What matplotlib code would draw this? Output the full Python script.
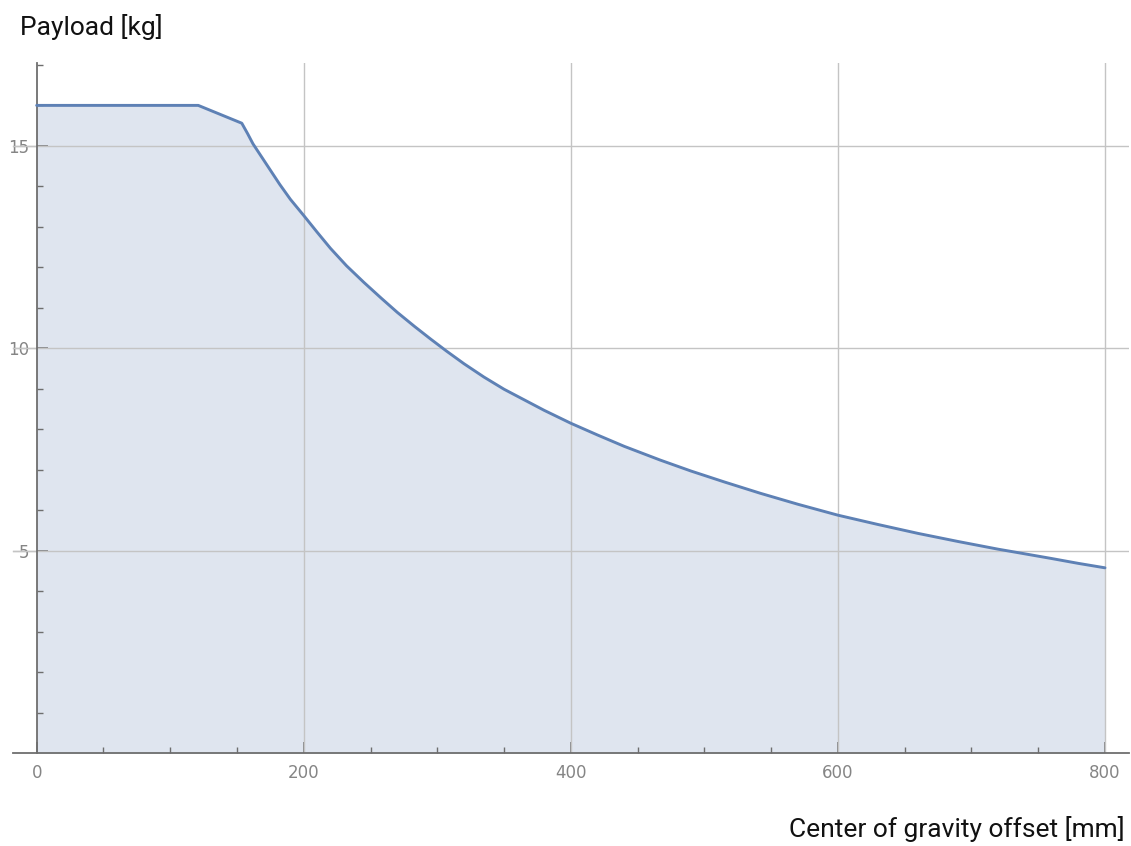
import matplotlib
matplotlib.use("Agg")
import matplotlib.pyplot as plt

# Data
offset_mm = [0, 121, 153.6, 158, 162, 170, 177, 182, 190, 200, 210, 220, 232,
             245, 258, 270, 283, 295, 307, 320, 335, 350, 365, 380, 400, 420,
             440, 467, 490, 515, 542, 570, 600, 630, 660, 690, 720, 734, 760,
             780, 800]
payload_kg = [16.0, 16.0, 15.56, 15.3, 15.05, 14.65, 14.3, 14.05, 13.68, 13.28,
              12.87, 12.47, 12.04, 11.63, 11.24, 10.89, 10.54, 10.23, 9.93, 9.62,
              9.29, 8.99, 8.73, 8.47, 8.15, 7.86, 7.58, 7.24, 6.97, 6.7, 6.42,
              6.15, 5.88, 5.65, 5.43, 5.23, 5.04, 4.96, 4.81, 4.69, 4.58]

x_major = [0, 200, 400, 600, 800]
x_minor = [50, 100, 150, 250, 300, 350, 450, 500, 550, 650, 700, 750]
y_major = [5, 10, 15]
y_minor = [1, 2, 3, 4, 6, 7, 8, 9, 11, 12, 13, 14, 16, 17]

plt.rcParams['font.family'] = ['Roboto', 'DejaVu Sans']

fig = plt.figure(figsize=(11.31, 8.46), dpi=100)
ax = fig.add_axes([0.01176, 0.1096, 0.9865, 0.8156])

line_c = '#5e81b5'
fill_c = '#dfe5ef'

ax.fill_between(offset_mm, payload_kg, 0, color=fill_c, lw=0, zorder=1)
ax.plot(offset_mm, payload_kg, color=line_c, lw=2.1, zorder=3,
        solid_joinstyle='round', solid_capstyle='round')

ax.set_xlim(-17.5, 818)
ax.set_ylim(0, 17.04)

grid_c = '#c4c4c4'
for xv in [200, 400, 600, 800]:
    ax.axvline(xv, color=grid_c, lw=1.0, zorder=2)
for yv in y_major:
    ax.axhline(yv, color=grid_c, lw=1.0, zorder=2)
    ax.plot([-17.5, 0], [yv, yv], color=grid_c, lw=1.0, zorder=0, clip_on=False)

for s in ['top', 'right']:
    ax.spines[s].set_visible(False)
ax.spines['left'].set_position(('data', 0))
spine_c = '#6e6e6e'
ax.spines['left'].set_color(spine_c)
ax.spines['bottom'].set_color(spine_c)
ax.spines['left'].set_linewidth(1.3)
ax.spines['bottom'].set_linewidth(1.3)

ax.set_xticks(x_major)
ax.set_xticks(x_minor, minor=True)
ax.set_yticks(y_major)
ax.set_yticks(y_minor, minor=True)
ax.set_xticklabels([str(v) for v in x_major], family='DejaVu Sans')
ax.set_yticklabels([str(v) for v in y_major], family='DejaVu Sans')

ax.tick_params(axis='both', which='major', direction='in', length=8, width=1.1,
               color=spine_c, labelcolor='#858585', labelsize=12)
ax.tick_params(axis='both', which='minor', direction='in', length=4.5, width=1.0,
               color=spine_c)
ax.tick_params(axis='x', which='major', pad=8)
ax.tick_params(axis='y', which='major', pad=5)

fig.text(20 / 1131, 1 - 35 / 846, 'Payload [kg]', fontsize=19, color='#111111',
         ha='left', va='baseline')
fig.text(1125 / 1131, 1 - 837 / 846, 'Center of gravity offset [mm]', fontsize=19,
         color='#111111', ha='right', va='baseline')

fig.savefig('out.png', dpi=100)
